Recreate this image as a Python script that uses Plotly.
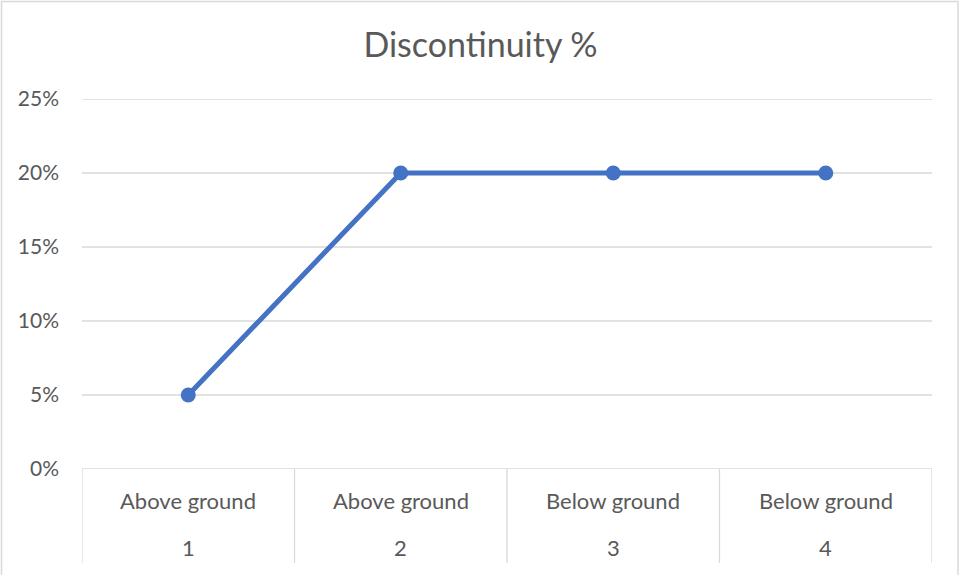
import plotly.graph_objects as go

# Discontinuity share per location / sample
groups = ["Above ground", "Above ground", "Below ground", "Below ground"]
samples = ["1", "2", "3", "4"]
discontinuity = [0.05, 0.20, 0.20, 0.20]
y_ticks = [0, 0.05, 0.10, 0.15, 0.20, 0.25]

TEXT = "#595959"
GRID = "#D9D9D9"
LINE = "#4472C4"
FONT = "Lato"

W, H = 961, 575
L, R, T, B = 82, 29, 99, 106
plot_h = H - T - B

x_pos = list(range(1, len(samples) + 1))

fig = go.Figure()
fig.add_trace(go.Scatter(
    x=x_pos, y=discontinuity, mode="lines+markers",
    line=dict(color=LINE, width=5),
    marker=dict(color=LINE, size=15),
    hoverinfo="skip", showlegend=False,
))

shapes = []
# horizontal gridlines
for v in y_ticks:
    shapes.append(dict(type="line", xref="paper", yref="y", x0=0, x1=1, y0=v, y1=v,
                       line=dict(color=GRID, width=1.3), layer="below"))
# category dividers below the plot
for i in range(len(samples) + 1):
    shapes.append(dict(type="line", xref="x", yref="paper", x0=0.5 + i, x1=0.5 + i,
                       y0=0, y1=-(94 / plot_h), line=dict(color=GRID, width=1.3)))
# outer chart border
plot_w = W - L - R
shapes.append(dict(type="rect", xref="paper", yref="paper",
                   x0=(1.5 - L) / plot_w, x1=(958 - L) / plot_w,
                   y0=-(H + 20 - (H - B)) / plot_h, y1=(H - B - 1.5) / plot_h,
                   line=dict(color=GRID, width=1.5), fillcolor="rgba(0,0,0,0)"))

annotations = []
for xp, g, s in zip(x_pos, groups, samples):
    annotations.append(dict(x=xp, y=0, xref="x", yref="paper", text=g, showarrow=False,
                            yshift=-31, yanchor="middle", font=dict(family=FONT, size=22, color=TEXT)))
    annotations.append(dict(x=xp, y=0, xref="x", yref="paper", text=s, showarrow=False,
                            yshift=-78, yanchor="middle", font=dict(family=FONT, size=22, color=TEXT)))

fig.update_layout(
    width=W, height=H,
    margin=dict(l=L, r=R, t=T, b=B),
    paper_bgcolor="white", plot_bgcolor="white",
    title=dict(text="Discontinuity %", x=0.5, xanchor="center", y=1 - 45 / H, yanchor="middle",
               font=dict(family=FONT, size=34, color=TEXT)),
    xaxis=dict(range=[0.5, len(samples) + 0.5], showgrid=False, zeroline=False,
               showticklabels=False, showline=False, fixedrange=True),
    yaxis=dict(range=[0, 0.25], tickvals=y_ticks, tickformat=".0%", showgrid=False,
               zeroline=False, showline=False, ticks="", ticklabelstandoff=22,
               tickfont=dict(family=FONT, size=21, color=TEXT), fixedrange=True),
    shapes=shapes, annotations=annotations,
)

fig.write_html("out.html")
